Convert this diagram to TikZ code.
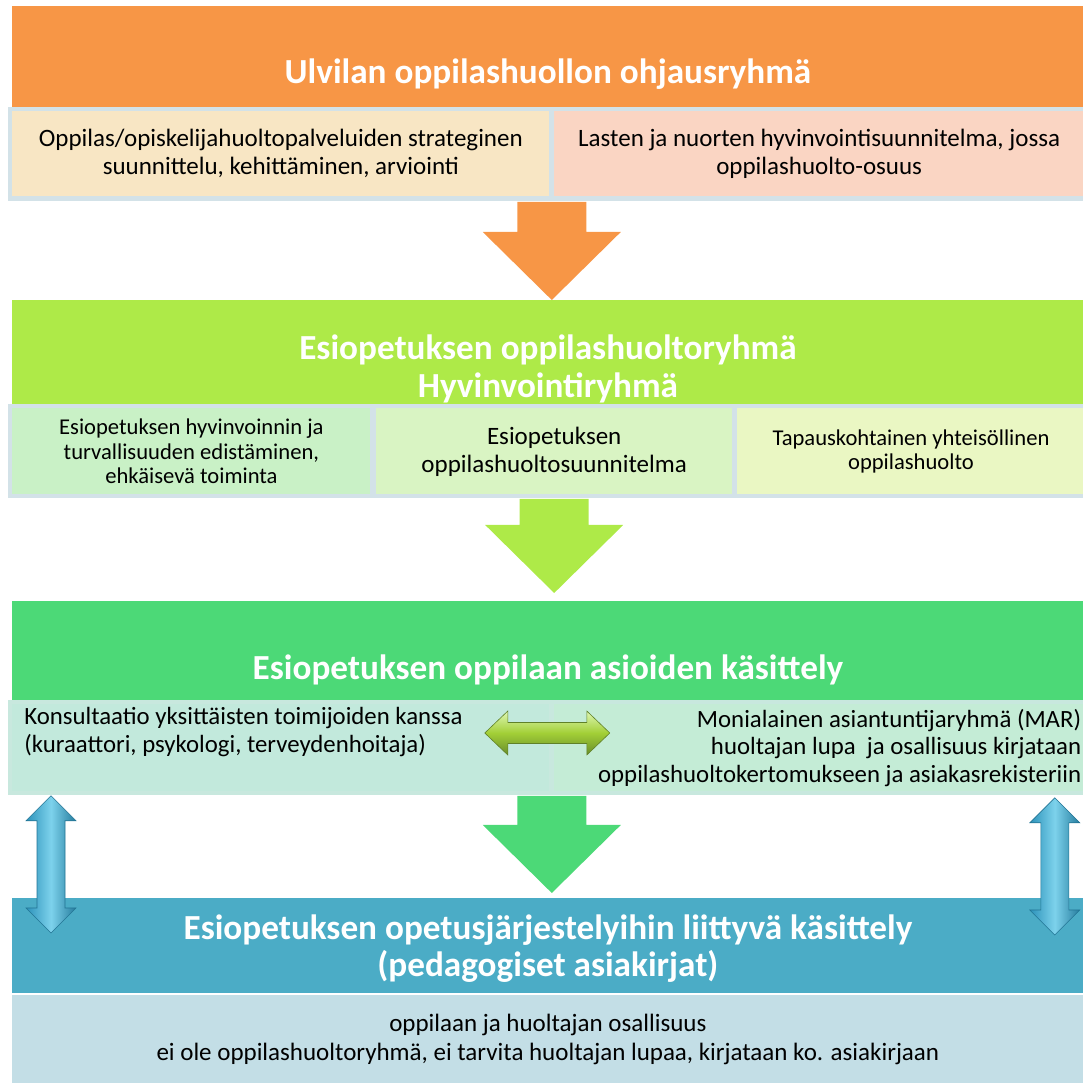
\documentclass[tikz,border=0pt]{standalone}
\usepackage{fontspec}
\setmainfont{Carlito}
\usetikzlibrary{positioning,calc}
\definecolor{headorange}{HTML}{F79646}
\definecolor{headlime}{HTML}{AEEA48}
\definecolor{headgreen}{HTML}{4CD977}
\definecolor{headteal}{HTML}{4BACC6}
\definecolor{arrowblue}{HTML}{2C92BA}
\definecolor{arrowsky}{HTML}{7DD2EC}
\definecolor{framegray}{HTML}{D3E2E8}
\definecolor{framemint}{HTML}{C8E8DE}
\definecolor{cellbeige}{HTML}{F8E6C4}
\definecolor{cellpeach}{HTML}{FAD5C3}
\definecolor{cellmint}{HTML}{C9F1C6}
\definecolor{cellpale}{HTML}{D9F4C3}
\definecolor{cellcream}{HTML}{EAF7C3}
\definecolor{cellsea}{HTML}{C2E9DC}
\definecolor{cellsage}{HTML}{C4ECD6}
\definecolor{cellsky}{HTML}{C3DEE6}
\tikzset
{
	headbox/.style = {rectangle, anchor=north west, minimum width=535.5pt, inner sep=0pt},
	rowframe/.style = {rectangle, anchor=north west, fill=framegray, minimum width=537.5pt, minimum height=47pt, inner sep=0pt},
	cellbox/.style = {rectangle, anchor=north west, inner sep=0pt, align=center, font=\fontsize{12.5}{14}\selectfont},
	smallcell/.style = {cellbox, font=\fontsize{11.3}{12.3}\selectfont},
	headtitle/.style = {anchor=base, text=white, align=center, inner sep=0pt, font=\bfseries\fontsize{17.6}{19}\selectfont}
}
\newcommand{\downblock}[3]{%
	\fill[#3] let \p1=(#1), \p2=(#2) in
		(\x1-17.25pt,\y1) -- (\x1+17.25pt,\y1) -- (\x1+17.25pt,\y2+34pt) -- (\x1+34.5pt,\y2+34pt)
		-- (\x1,\y2) -- (\x1-34.5pt,\y2+34pt) -- (\x1-17.25pt,\y2+34pt) -- cycle;
}
\newcommand{\updownblock}[2]{%
	\shade[left color=arrowblue, right color=arrowblue!85!black, middle color=arrowsky, draw=arrowblue!80!black, line width=0.3pt]
		let \p1=(#1), \p2=(#2) in
		(\x1,\y1) -- (\x1+12.5pt,\y1-12.5pt) -- (\x1+7pt,\y1-12.5pt) -- (\x1+7pt,\y2+12.5pt) -- (\x1+12.5pt,\y2+12.5pt)
		-- (\x1,\y2) -- (\x1-12.5pt,\y2+12.5pt) -- (\x1-7pt,\y2+12.5pt) -- (\x1-7pt,\y1-12.5pt) -- (\x1-12.5pt,\y1-12.5pt) -- cycle;
}
\begin{document}
\begin{tikzpicture}[x=0.5pt, y=0.5pt]
\useasboundingbox (0,0) rectangle (1083,1083);
% ohjausryhma
\node[headbox, fill=headorange, minimum height=50.5pt] (ohjaus) at (12,1077) {};
\node[headtitle] (ohjaustitle) at ($(ohjaus.south)+(0,12pt)$) {Ulvilan oppilashuollon ohjausryhmä};
\node[rowframe] (frame1) at (8,976) {};
\node[cellbox, fill=cellbeige, minimum width=268.5pt, minimum height=42.5pt] (strategia) at (12,972)
	{Oppilas/opiskelijahuoltopalveluiden strateginen\\ suunnittelu, kehittäminen, arviointi};
\node[cellbox, fill=cellpeach, minimum width=265pt, minimum height=42.5pt, right=2pt of strategia] (suunnitelma)
	{Lasten ja nuorten hyvinvointisuunnitelma, jossa\\ oppilashuolto-osuus};
% hyvinvointiryhma
\node[headbox, fill=headlime, minimum height=52pt] (hyvinvointi) at (12,783) {};
\node[headtitle] (hyvtitle) at ($(hyvinvointi.south)+(0,3.5pt)$) {Esiopetuksen oppilashuoltoryhmä\\ Hyvinvointiryhmä};
\node[rowframe] (frame2) at (8,679) {};
\node[smallcell, fill=cellmint, minimum width=179pt, minimum height=43pt] (edistaminen) at (12,675)
	{Esiopetuksen hyvinvoinnin ja\\ turvallisuuden edistäminen,\\ ehkäisevä toiminta};
\node[cellbox, fill=cellpale, minimum width=178pt, minimum height=43pt, right=2.5pt of edistaminen] (ohjelma)
	{Esiopetuksen\\ oppilashuoltosuunnitelma};
\node[smallcell, fill=cellcream, minimum width=174pt, minimum height=43pt, right=2pt of ohjelma] (tapaus)
	{Tapauskohtainen yhteisöllinen\\ oppilashuolto};
% oppilaan asiat
\node[headbox, fill=headgreen, minimum height=49.5pt] (asiat) at (12,482) {};
\node[headtitle] (asiattitle) at ($(asiat.south)+(0,10.5pt)$) {Esiopetuksen oppilaan asioiden käsittely};
\node[rowframe, fill=framemint, minimum height=47.5pt] (frame3) at (8,383) {};
\node[cellbox, fill=cellsea, minimum width=268.5pt, minimum height=43.5pt, align=flush left, text width=256.5pt, inner xsep=6pt, font=\fontsize{12.4}{13.7}\selectfont] (konsultaatio) at (12,379)
	{Konsultaatio yksittäisten toimijoiden kanssa\\ (kuraattori, psykologi, terveydenhoitaja)\\ \strut};
\node[cellbox, fill=cellsage, minimum width=265pt, minimum height=43.5pt, align=flush right, text width=262pt, inner xsep=1.5pt, font=\fontsize{12.4}{13.7}\selectfont, right=2pt of konsultaatio] (mar)
	{Monialainen asiantuntijaryhmä (MAR)\\ huoltajan lupa\ \ ja osallisuus kirjataan\\ oppilashuoltokertomukseen ja asiakasrekisteriin};
% pedagogiset asiakirjat
\node[headbox, fill=headteal, minimum height=47.5pt] (pedagogiikka) at (12,185) {};
\node[headtitle, font=\bfseries\fontsize{17.6}{18.5}\selectfont] (pedtitle) at ($(pedagogiikka.south)+(0,8.5pt)$) {Esiopetuksen opetusjärjestelyihin liittyvä käsittely\\ (pedagogiset asiakirjat)};
\node[cellbox, fill=cellsky, minimum width=535.5pt, minimum height=44pt, font=\fontsize{12.5}{14.5}\selectfont] (osallisuus) at (12,88)
	{oppilaan ja huoltajan osallisuus\\ ei ole oppilashuoltoryhmä, ei tarvita huoltajan lupaa, kirjataan ko. asiakirjaan};
% arrows
\coordinate (arr1) at ($(strategia.south east)!.5!(suunnitelma.south west)$);
\coordinate (arr3) at ($(konsultaatio.south east)!.5!(mar.south west)$);
\downblock{arr1 |- frame1.south}{hyvinvointi.north}{headorange}
\downblock{ohjelma.south |- frame2.south}{$(asiat.north)+(0,4pt)$}{headlime}
\downblock{arr3 |- frame3.south}{$(pedagogiikka.north)+(0,2.5pt)$}{headgreen}
\coordinate (dblL) at ($(konsultaatio.north east)+(-32.5pt,-14.5pt)$);
\coordinate (dblR) at ($(mar.north west)+(28pt,-14.5pt)$);
\shade[top color=headlime!40!white, bottom color=headlime!60!black, middle color=headlime!75!olive, draw=headlime!55!black, line width=0.3pt]
	let \p1=(dblL), \p2=(dblR) in
	(\x1,\y1) -- (\x1+11.5pt,\y1+11pt) -- (\x1+11.5pt,\y1+5.25pt) -- (\x2-11.5pt,\y1+5.25pt) -- (\x2-11.5pt,\y1+11pt)
	-- (\x2,\y1) -- (\x2-11.5pt,\y1-11pt) -- (\x2-11.5pt,\y1-5.25pt) -- (\x1+11.5pt,\y1-5.25pt) -- (\x1+11.5pt,\y1-11pt) -- cycle;
\coordinate (upL) at ($(frame3.south west)+(21.5pt,0)$);
\coordinate (dnL) at ($(upL |- pedagogiikka.north)+(0,-17.5pt)$);
\coordinate (upR) at ($(frame3.south east)+(-14.5pt,-1pt)$);
\coordinate (dnR) at ($(upR |- pedagogiikka.north)+(0,-18.5pt)$);
\updownblock{upL}{dnL}
\updownblock{upR}{dnR}
\end{tikzpicture}
\end{document}
